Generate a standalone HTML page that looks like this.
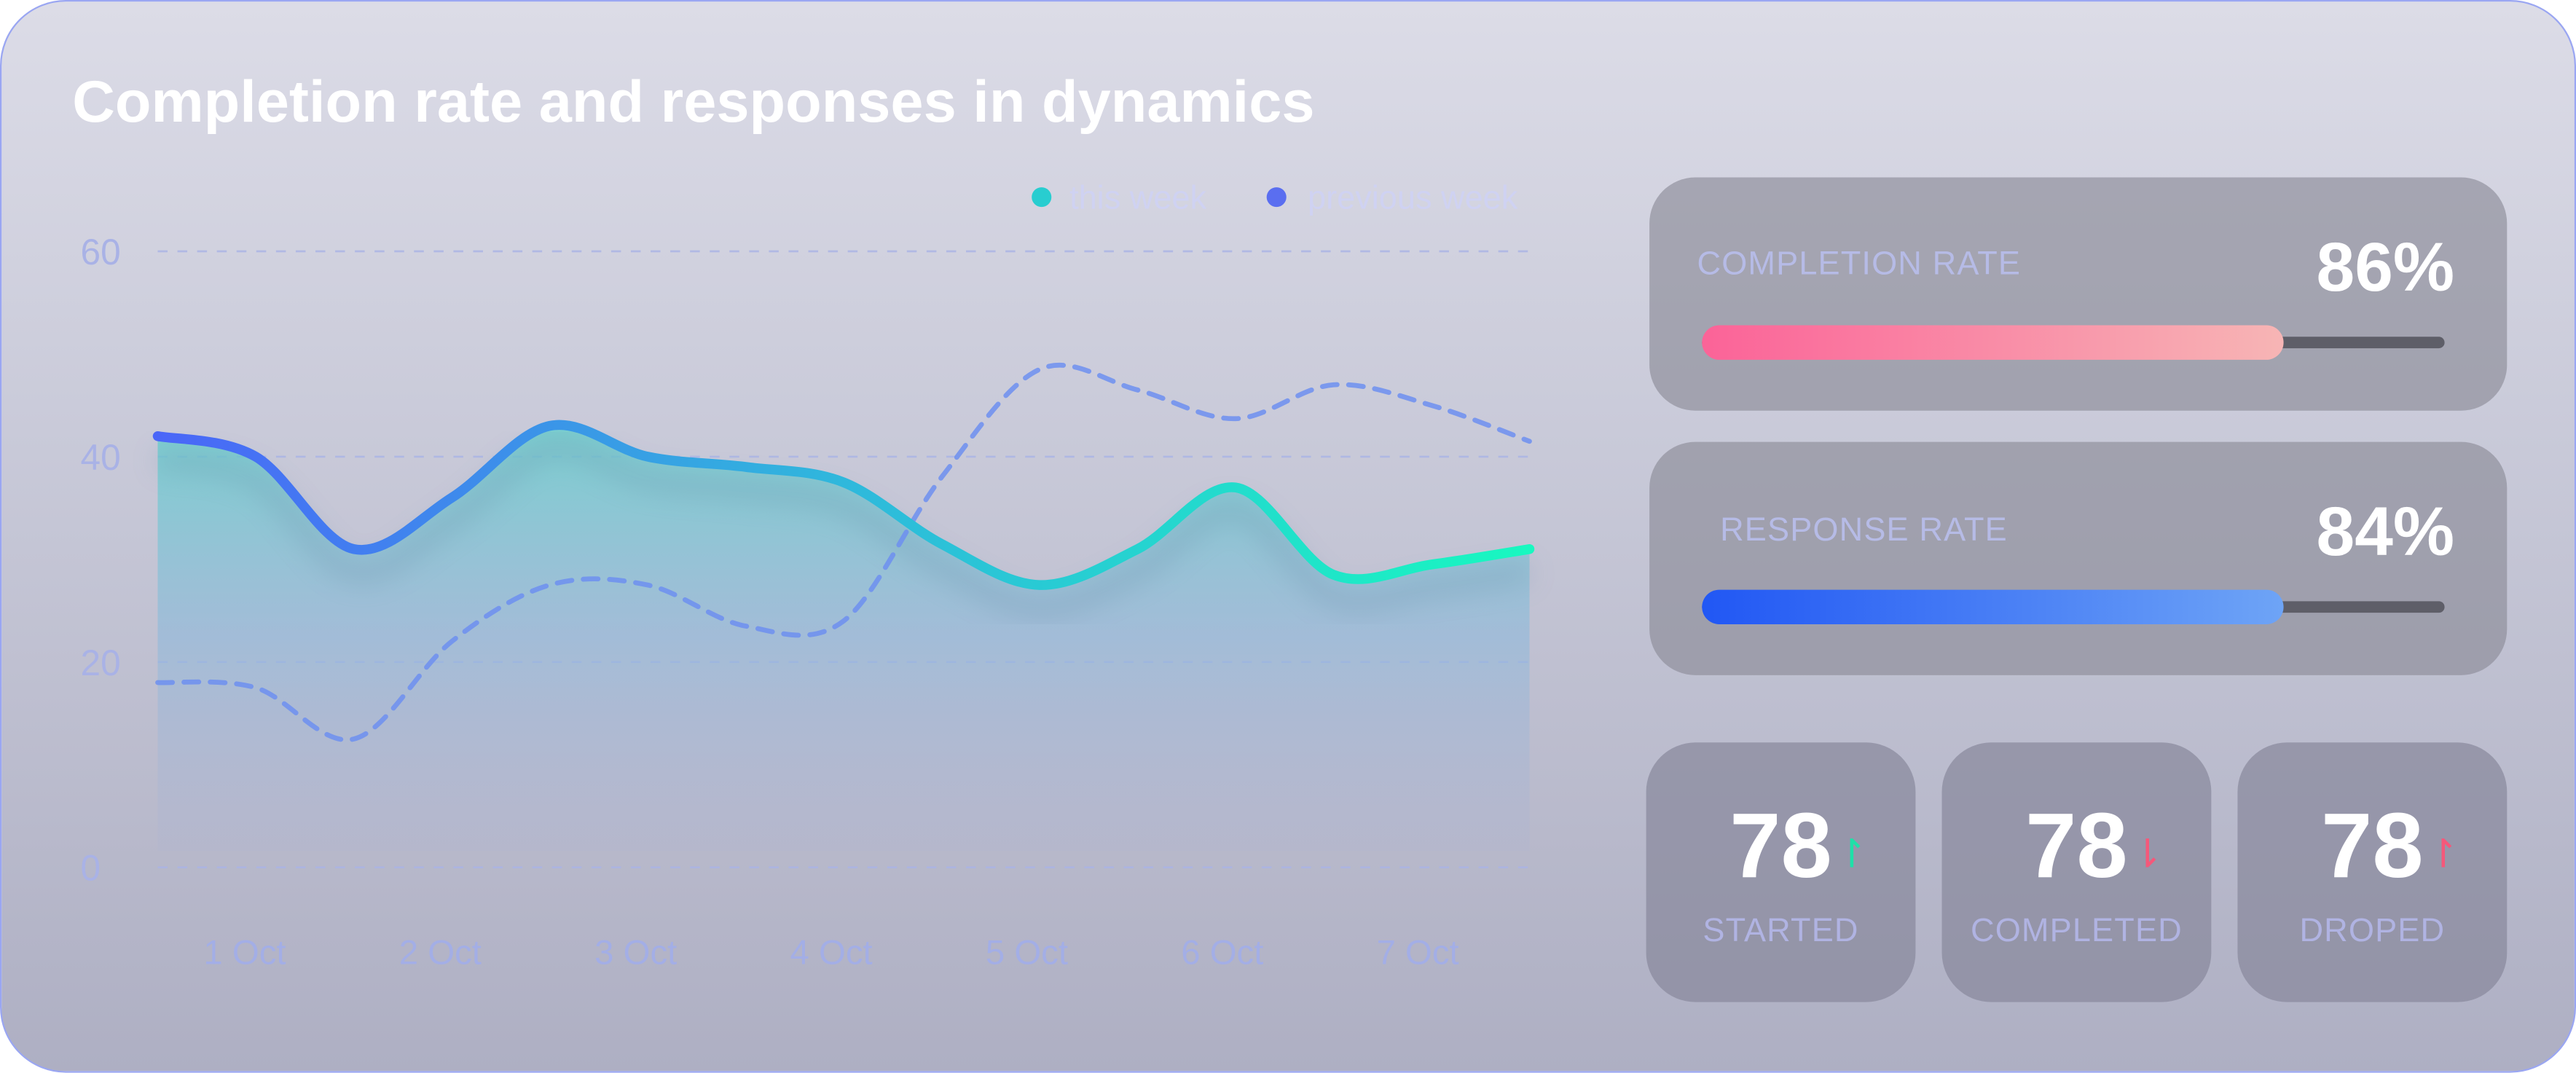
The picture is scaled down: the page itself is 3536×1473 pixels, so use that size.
<!DOCTYPE html>
<html><head><meta charset="utf-8">
<style>
html,body{margin:0;padding:0;width:3536px;height:1472px;overflow:hidden;background:#fff;font-family:"Liberation Sans",sans-serif}
#stage{position:absolute;left:0;top:0;width:1568px;height:653px;transform:scale(2.2551);transform-origin:0 0}
#card{position:absolute;left:0;top:0;width:1566px;height:651px;border:1px solid #9aa6f2;border-radius:40px;background:linear-gradient(#dcdce7,#c9cad9 40%,#aeafc3);overflow:hidden}
.title{position:absolute;left:43px;top:40px;font-size:36px;font-weight:bold;color:#fff;white-space:nowrap}
.rc{position:absolute;background:rgba(140,140,152,0.65);border-radius:28px}
.lab{position:absolute;color:#b6bbe6;font-size:20px;letter-spacing:0.5px;white-space:nowrap}
.pct{position:absolute;color:#fff;font-weight:bold;font-size:42px;right:32px}
.track{position:absolute;left:32px;width:452px;height:7px;border-radius:4px;background:#5e5e68}
.fill{position:absolute;left:32px;width:354px;height:21px;border-radius:11px}
.num{position:absolute;left:0;width:100%;text-align:center;top:30px;color:#fff;font-weight:bold;font-size:56px}
.sl{position:absolute;left:0;width:100%;text-align:center;top:104px;color:#b0b3e2;font-size:20px;letter-spacing:0.5px}
.arr{position:absolute;margin-left:2px;margin-top:24px;font-size:24px;font-weight:normal}
</style></head><body>
<div id="stage">
<div id="card">
<div class="title">Completion rate and responses in dynamics</div>
<svg id="chart" width="960" height="620" style="position:absolute;left:0;top:0"></svg>

<div class="rc" style="left:1003px;top:107px;width:522px;height:142px">
<div class="lab" style="left:29px;top:42px">COMPLETION RATE</div>
<div class="pct" style="top:31px">86%</div>
<div class="track" style="top:97px"></div>
<div class="fill" style="top:90px;background:linear-gradient(90deg,#fb6398,#f7b5b5)"></div>
</div>
<div class="rc" style="left:1003px;top:268px;width:522px;height:142px">
<div class="lab" style="left:43px;top:43px">RESPONSE RATE</div>
<div class="pct" style="top:31px">84%</div>
<div class="track" style="top:97px"></div>
<div class="fill" style="top:90px;background:linear-gradient(90deg,#2157f4,#6ea4f6)"></div>
</div>

<div class="rc" style="left:1001px;top:451px;width:164px;height:158px;border-radius:30px;background:rgba(135,135,155,0.7)">
<div class="num">78<span class="arr" style="color:#1fe0a8">↾</span></div>
<div class="sl">STARTED</div></div>
<div class="rc" style="left:1181px;top:451px;width:164px;height:158px;border-radius:30px;background:rgba(135,135,155,0.7)">
<div class="num">78<span class="arr" style="color:#f5587a">⇂</span></div>
<div class="sl">COMPLETED</div></div>
<div class="rc" style="left:1361px;top:451px;width:164px;height:158px;border-radius:30px;background:rgba(135,135,155,0.7)">
<div class="num">78<span class="arr" style="color:#f5587a">↾</span></div>
<div class="sl">DROPED</div></div>
</div></div>
<script>
const categories=["1 Oct","2 Oct","3 Oct","4 Oct","5 Oct","6 Oct","7 Oct"];
const thisWeek=[42,40,31,36,43,40,39,37.5,31.5,27.5,31,37,28.5,29.5,31];
const prevWeek=[18,17.5,12.5,22,27.5,27.5,23.5,24,38,48.5,46.5,43.7,47,45,41.5];
const yTicks=[0,20,40,60];
const NS="http://www.w3.org/2000/svg";
const svg=document.getElementById('chart');
const X0=95,X1=930,Y0=527,Y60=152;
const y=v=>Y0-(v/60)*(Y0-Y60);
const xi=(i,n)=>X0+(X1-X0)*i/(n-1);
const xc=i=>148+i*119;
function mk(t,a){const e=document.createElementNS(NS,t);for(const k in a)e.setAttribute(k,a[k]);svg.appendChild(e);return e;}
svg.innerHTML='<defs><linearGradient id="lg" x1="0" x2="1"><stop offset="0" stop-color="#4a66f8"/><stop offset="0.5" stop-color="#2fb8dc"/><stop offset="1" stop-color="#18f8c0"/></linearGradient><linearGradient id="ag" x1="0" y1="0" x2="0" y2="1"><stop offset="0" stop-color="#5fd0cc" stop-opacity="0.75"/><stop offset="0.5" stop-color="#8ab8dc" stop-opacity="0.55"/><stop offset="1" stop-color="#a8b0d4" stop-opacity="0.15"/></linearGradient><filter id="sh"><feGaussianBlur stdDeviation="8"/></filter></defs>';
function path(vals){const p=vals.map((v,i)=>[xi(i,vals.length),y(v)]);let d=`M${p[0][0]},${p[0][1]}`;for(let i=0;i<p.length-1;i++){const a=p[Math.max(0,i-1)],b=p[i],c=p[i+1],e=p[Math.min(p.length-1,i+2)];d+=` C${b[0]+(c[0]-a[0])/6},${b[1]+(c[1]-a[1])/6} ${c[0]-(e[0]-b[0])/6},${c[1]-(e[1]-b[1])/6} ${c[0]},${c[1]}`;}return d;}
yTicks.forEach(t=>{
const g=mk('line',{x1:X0,x2:X1,y1:y(t),y2:y(t),stroke:'#aab4e6','stroke-width':1.2,'stroke-dasharray':'6 6',opacity:0.8});


const l=mk('text',{x:48,y:y(t)+8,fill:'#a9b2e6','font-size':22,'font-family':'Liberation Sans'});l.textContent=t;


});
categories.forEach((c,i)=>{const t=mk('text',{x:xc(i),y:586,fill:'#a3aee6','font-size':21,'text-anchor':'middle','font-family':'Liberation Sans'});t.textContent=c;

});
const dp=path(thisWeek);
const area=mk('path',{d:dp+` L${X1},${Y0-10} L${X0},${Y0-10} Z`,fill:'url(#ag)'});


const sh=mk('path',{d:dp,fill:'none',stroke:'#6a8aa8','stroke-width':10,opacity:0.35,filter:'url(#sh)',transform:'translate(0,14)'});


const pl=mk('path',{d:path(prevWeek),fill:'none',stroke:'#6d8ff0','stroke-width':3,'stroke-dasharray':'9 7','stroke-linecap':'round',opacity:0.85});


const tl=mk('path',{d:dp,fill:'none',stroke:'url(#lg)','stroke-width':6,'stroke-linecap':'round'});


[[633,'#28cdd0','this week',650],[776,'#5a6ef0','previous week',795]].forEach(([cx,col,txt,tx])=>{
const c=mk('circle',{cx:cx,cy:119,r:6,fill:col});


const t=mk('text',{x:tx,y:126,fill:'#cfd2f2','font-size':20,'font-family':'Liberation Sans'});t.textContent=txt;


});
</script>
</body></html>
